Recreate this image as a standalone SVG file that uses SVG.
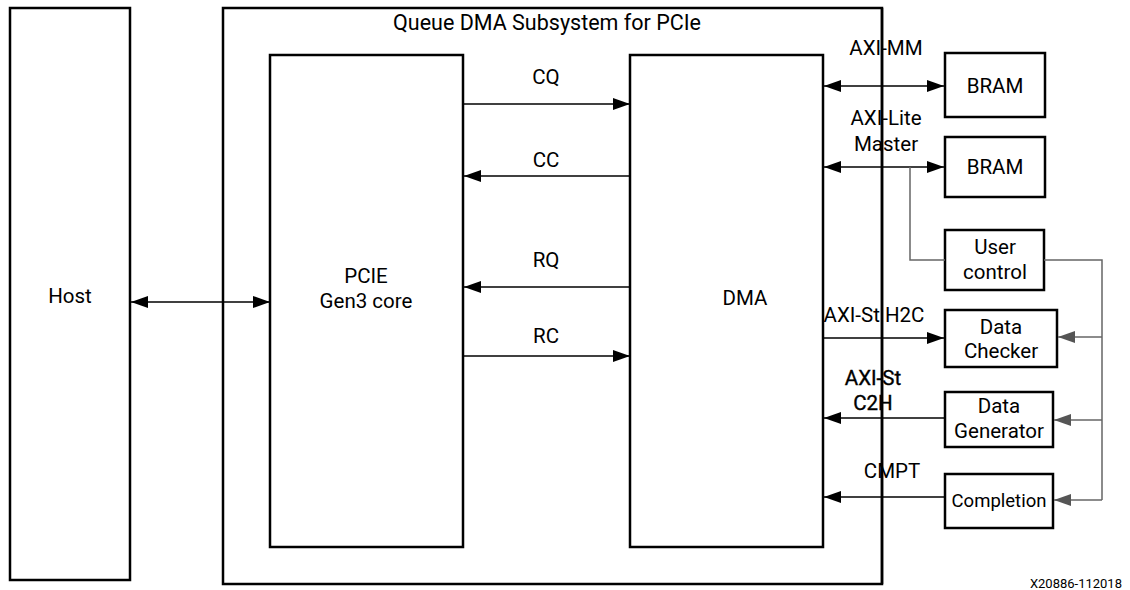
<svg xmlns="http://www.w3.org/2000/svg" width="1130" height="590" viewBox="0 0 1130 590">
  <style>
    .box { fill: #fff; stroke: #000; stroke-width: 2.5; }
    .frame { fill: none; stroke: #000; stroke-width: 2.5; }
    .lbl { font-family: Roboto, "Liberation Sans", sans-serif; font-size: 20.5px; fill: #000; text-anchor: middle; }
    .bold { stroke: #000; stroke-width: 0.35; }
    .note { font-family: Roboto, "Liberation Sans", sans-serif; font-size: 13px; fill: #000; text-anchor: end; }
    .wire { fill: none; stroke: #000; stroke-width: 1.5; }
    .ctl { fill: none; stroke: #666; stroke-width: 1.5; }
  </style>
  <defs>
    <marker id="ah" markerUnits="userSpaceOnUse" markerWidth="18" markerHeight="14" refX="17" refY="7" orient="auto-start-reverse">
      <path d="M0,1 L17,7 L0,13 Z" fill="#000"/>
    </marker>
    <marker id="ahg" markerUnits="userSpaceOnUse" markerWidth="18" markerHeight="14" refX="17" refY="7" orient="auto-start-reverse">
      <path d="M0,1 L17,7 L0,13 Z" fill="#555"/>
    </marker>
  </defs>

  <rect width="1130" height="590" fill="#fff"/>

  <!-- host side -->
  <g id="host">
    <rect class="box" x="10" y="8" width="120" height="572"/>
    <text class="lbl" x="70" y="303">Host</text>
  </g>

  <!-- QDMA subsystem frame -->
  <g id="qdma">
    <rect class="frame" x="223" y="8" width="659" height="576"/>
    <text class="lbl" x="547" y="30" style="font-size:21.5px">Queue DMA Subsystem for PCIe</text>
  </g>

  <g id="pcie">
    <rect class="box" x="270" y="55" width="193" height="492"/>
    <text class="lbl" x="366" y="283">PCIE</text>
    <text class="lbl" x="366" y="308">Gen3 core</text>
  </g>

  <g id="dma">
    <rect class="box" x="630" y="55" width="193" height="492"/>
    <text class="lbl" x="745" y="305">DMA</text>
  </g>

  <!-- user logic blocks -->
  <g id="bram-mm">
    <rect class="box" x="945" y="53" width="100" height="64"/>
    <text class="lbl" x="995" y="93">BRAM</text>
  </g>
  <g id="bram-lite">
    <rect class="box" x="945" y="137" width="100" height="60"/>
    <text class="lbl" x="995" y="174">BRAM</text>
  </g>
  <g id="user-control">
    <rect class="box" x="945" y="230" width="99" height="60"/>
    <text class="lbl" x="995" y="254">User</text>
    <text class="lbl" x="995" y="279">control</text>
  </g>
  <g id="data-checker">
    <rect class="box" x="945" y="310" width="112" height="57"/>
    <text class="lbl" x="1001" y="334">Data</text>
    <text class="lbl" x="1001" y="358">Checker</text>
  </g>
  <g id="data-generator">
    <rect class="box" x="945" y="392" width="108" height="55"/>
    <text class="lbl" x="999" y="413">Data</text>
    <text class="lbl" x="999" y="438">Generator</text>
  </g>
  <g id="completion">
    <rect class="box" x="945" y="474" width="108" height="54"/>
    <text class="lbl" x="999" y="507" style="font-size:18.5px">Completion</text>
  </g>

  <!-- connectors -->
  <g id="connectors">
    <line class="wire" x1="131" y1="302" x2="270" y2="302" marker-start="url(#ah)" marker-end="url(#ah)"/>
    <line class="wire" x1="464" y1="104" x2="630" y2="104" marker-end="url(#ah)"/>
    <line class="wire" x1="630" y1="176" x2="464" y2="176" marker-end="url(#ah)"/>
    <line class="wire" x1="630" y1="287" x2="464" y2="287" marker-end="url(#ah)"/>
    <line class="wire" x1="464" y1="356" x2="630" y2="356" marker-end="url(#ah)"/>

    <line class="wire" x1="824" y1="86" x2="944" y2="86" marker-start="url(#ah)" marker-end="url(#ah)"/>
    <line class="wire" x1="824" y1="167" x2="944" y2="167" marker-start="url(#ah)" marker-end="url(#ah)"/>
    <line class="wire" x1="824" y1="338" x2="944" y2="338" marker-end="url(#ah)"/>
    <line class="wire" x1="945" y1="418" x2="824" y2="418" marker-end="url(#ah)"/>
    <line class="wire" x1="945" y1="497" x2="824" y2="497" marker-end="url(#ah)"/>

    <polyline class="ctl" points="910,167 910,260 945,260"/>
    <polyline class="ctl" points="1044,260 1102,260 1102,500"/>
    <line class="ctl" x1="1102" y1="337" x2="1058" y2="337" marker-end="url(#ahg)"/>
    <line class="ctl" x1="1102" y1="420" x2="1054" y2="420" marker-end="url(#ahg)"/>
    <line class="ctl" x1="1102" y1="500" x2="1054" y2="500" marker-end="url(#ahg)"/>

    <!-- frame edge drawn over the crossing buses -->
    <line x1="882" y1="8" x2="882" y2="584" stroke="#000" stroke-width="2.5"/>

    <text class="lbl" x="546" y="84">CQ</text>
    <text class="lbl" x="546" y="167">CC</text>
    <text class="lbl" x="546" y="267">RQ</text>
    <text class="lbl" x="546" y="343">RC</text>
    <text class="lbl" x="886" y="55">AXI-MM</text>
    <text class="lbl" x="886" y="125">AXI-Lite</text>
    <text class="lbl" x="886" y="151">Master</text>
    <text class="lbl" x="874" y="322">AXI-St H2C</text>
    <text class="lbl bold" x="873" y="385">AXI-St</text>
    <text class="lbl bold" x="873" y="410">C2H</text>
    <text class="lbl" x="892" y="478">CMPT</text>
  </g>

  <text class="note" x="1122" y="588">X20886-112018</text>
</svg>
